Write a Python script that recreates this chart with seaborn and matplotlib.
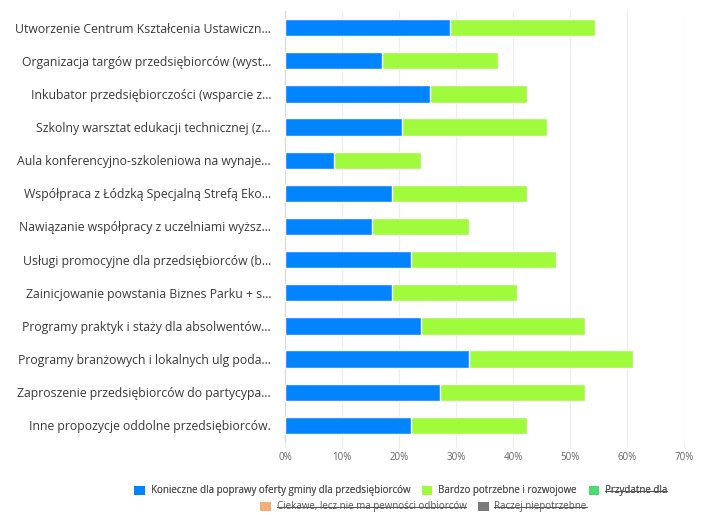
import matplotlib
matplotlib.use("Agg")
import matplotlib.pyplot as plt
from matplotlib.patches import Patch
from matplotlib.lines import Line2D
from matplotlib.ticker import FuncFormatter
import pandas as pd
import seaborn as sns

categories = [
    "Utworzenie Centrum Kształcenia Ustawiczn...",
    "Organizacja targów przedsiębiorców (wyst...",
    "Inkubator przedsiębiorczości (wsparcie z...",
    "Szkolny warsztat edukacji technicznej (z...",
    "Aula konferencyjno-szkoleniowa na wynaje...",
    "Współpraca z Łódzką Specjalną Strefą Eko...",
    "Nawiązanie współpracy z uczelniami wyższ...",
    "Usługi promocyjne dla przedsiębiorców (b...",
    "Zainicjowanie powstania Biznes Parku + s...",
    "Programy praktyk i staży dla absolwentów...",
    "Programy branżowych i lokalnych ulg poda...",
    "Zaproszenie przedsiębiorców do partycypa...",
    "Inne propozycje oddolne przedsiębiorców.",
]
# percentages
konieczne = [28.9, 17.0, 25.5, 20.5, 8.6, 18.8, 15.3, 22.1, 18.8, 23.9, 32.3, 27.2, 22.1]
bardzo = [25.4, 20.4, 16.9, 25.4, 15.2, 23.6, 17.0, 25.4, 21.9, 28.7, 28.8, 25.4, 20.3]

series_names = [
    "Konieczne dla poprawy oferty gminy dla przedsiębiorców",
    "Bardzo potrzebne i rozwojowe",
    "Przydatne dla",
    "Ciekawe, lecz nie ma pewności odbiorców",
    "Raczej niepotrzebne",
]
series_colors = ["#0384ff", "#a0fb3c", "#4cdc6c", "#f6ae78", "#7a7a7a"]
hidden = [False, False, True, True, True]

x_ticks = [0, 10, 20, 30, 40, 50, 60, 70]

df = pd.DataFrame({"label": categories, "konieczne": konieczne, "bardzo": bardzo})
df["total"] = df["konieczne"] + df["bardzo"]

sns.set_theme(style="white")
plt.rcParams["font.family"] = ["Open Sans", "DejaVu Sans"]

W, H = 720, 515
fig = plt.figure(figsize=(7.2, 5.15), dpi=100)
ax = fig.add_axes([285 / W, 73 / H, 399 / W, 431 / H])

# stacked bars: draw the total first, then the first segment on top
sns.barplot(data=df, x="total", y="label", color=series_colors[1], width=0.52,
            saturation=1, ax=ax, zorder=3)
sns.barplot(data=df, x="konieczne", y="label", color=series_colors[0], width=0.52,
            saturation=1, ax=ax, zorder=4)

ax.set_xlim(0, 70)
ax.set_xticks(x_ticks)
ax.xaxis.set_major_formatter(FuncFormatter(lambda v, p: f"{v:.0f}%"))
ax.set_xlabel("")
ax.set_ylabel("")
ax.grid(axis="x", color="#ececec", linewidth=0.8, zorder=0)
ax.set_axisbelow(True)
for s in ["top", "right", "bottom"]:
    ax.spines[s].set_visible(False)
ax.spines["left"].set_color("#d8d8d8")
ax.spines["left"].set_linewidth(0.9)
ax.tick_params(axis="x", which="major", bottom=True, length=4, width=0.8,
               color="#ececec", labelsize=7, labelcolor="#666666", pad=3)
ax.tick_params(axis="y", left=False, labelsize=8.8, labelcolor="#3a3a3a", pad=4)

# legend, first row and second row
def make_legend(idx, y_px, x_px):
    handles = [Patch(facecolor=series_colors[i], edgecolor="none") for i in idx]
    leg = fig.legend(handles, [series_names[i] for i in idx], loc="center left",
                     bbox_to_anchor=(x_px / W, 1 - y_px / H), ncol=len(idx),
                     frameon=False, fontsize=7, handlelength=1.1, handleheight=1.1,
                     handletextpad=0.6, columnspacing=1.2, borderpad=0, borderaxespad=0)
    for t, i in zip(leg.get_texts(), idx):
        t.set_color("#555555")
    return leg

leg1 = make_legend([0, 1, 2], 491, 134)
leg2 = make_legend([3, 4], 507, 260)
fig.add_artist(leg1)

fig.canvas.draw()
renderer = fig.canvas.get_renderer()
for leg, idx in [(leg1, [0, 1, 2]), (leg2, [3, 4])]:
    for t, i in zip(leg.get_texts(), idx):
        if hidden[i]:
            bb = t.get_window_extent(renderer).transformed(fig.transFigure.inverted())
            ym = (bb.y0 + bb.y1) / 2
            fig.add_artist(Line2D([bb.x0, bb.x1], [ym, ym], transform=fig.transFigure,
                                  color="#555555", linewidth=0.8))

fig.savefig("out.png", dpi=100)
